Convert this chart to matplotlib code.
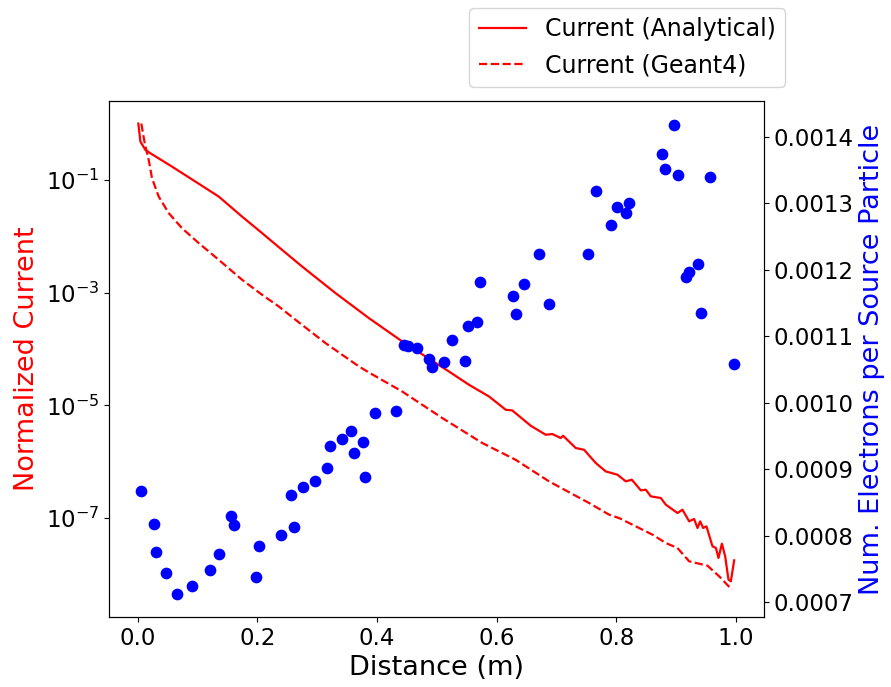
import numpy as np
import matplotlib.pyplot as plt
from matplotlib.ticker import NullLocator

# Analytical current (solid line)
dist_analytical = [0.001, 0.0045, 0.0129, 0.0212, 0.0574, 0.0965, 0.1355, 0.1745, 0.208,
                   0.2359, 0.2749, 0.3308, 0.3865, 0.4422, 0.4813, 0.5203, 0.5538, 0.5872,
                   0.6152, 0.6262, 0.657, 0.6821, 0.6931, 0.7072, 0.7111, 0.7323, 0.7462,
                   0.7658, 0.7825, 0.8019, 0.816, 0.826, 0.8411, 0.8494, 0.8578, 0.8745,
                   0.8829, 0.9023, 0.9107, 0.9219, 0.9302, 0.9358, 0.9403, 0.9453, 0.9508,
                   0.9609, 0.9666, 0.9709, 0.9766, 0.9821, 0.9876, 0.9916, 0.9971]
current_analytical = [1.0, 0.478, 0.340, 0.297, 0.172, 0.0933, 0.0506, 0.0223, 0.01135,
                      6.41e-3, 2.90e-3, 9.79e-4, 3.53e-4, 1.36e-4, 7.36e-5, 3.99e-5, 2.32e-5, 1.44e-5,
                      8.36e-6, 8.13e-6, 4.35e-6, 3.01e-6, 3.10e-6, 2.63e-6, 2.89e-6, 1.75e-6, 1.63e-6,
                      9.48e-7, 6.73e-7, 5.89e-7, 4.48e-7, 4.80e-7, 3.10e-7, 3.19e-7, 2.43e-7, 2.27e-7,
                      1.73e-7, 1.23e-7, 1.41e-7, 8.75e-8, 9.64e-8, 6.67e-8, 8.75e-8, 6.67e-8, 7.13e-8,
                      3.15e-8, 2.95e-8, 1.96e-8, 3.52e-8, 2.09e-8, 8.09e-9, 7.55e-9, 1.78e-8]

# Geant4 current (dashed line)
dist_geant4 = [0.006, 0.0117, 0.0184, 0.0239, 0.0351, 0.0519, 0.0741, 0.1021, 0.1355, 0.1745,
               0.208, 0.2359, 0.2638, 0.314, 0.3698, 0.3865, 0.4422, 0.5091, 0.576, 0.6319,
               0.6876, 0.7546, 0.788, 0.8048, 0.827, 0.8605, 0.8829, 0.9023, 0.9219, 0.9525,
               0.9721, 0.9933]
current_geant4 = [1.0, 0.448, 0.226, 0.107, 0.0506, 0.0257, 0.0139, 7.55e-3, 3.82e-3, 1.69e-3,
                  9.14e-4, 5.68e-4, 3.30e-4, 1.27e-4, 4.90e-5, 3.83e-5, 1.76e-5, 5.96e-6, 2.15e-6, 1.08e-6,
                  4.48e-7, 1.85e-7, 1.15e-7, 1.00e-7, 7.64e-8, 5.08e-8, 3.61e-8, 2.95e-8, 1.71e-8, 1.43e-8,
                  9.25e-9, 5.37e-9]

# Electrons per source particle (scatter)
dist_electrons = [0.0055, 0.0273, 0.0306, 0.0468, 0.0658, 0.0909, 0.121, 0.1367, 0.156, 0.161,
                  0.197, 0.2024, 0.240, 0.2565, 0.261, 0.2766, 0.296, 0.3167, 0.3207, 0.3418,
                  0.3569, 0.3614, 0.377, 0.3803, 0.3965, 0.431, 0.4456, 0.4517, 0.4663, 0.4869,
                  0.4925, 0.512, 0.5259, 0.547, 0.5521, 0.5667, 0.5722, 0.6269, 0.6319, 0.6464,
                  0.6714, 0.6871, 0.7524, 0.7663, 0.7919, 0.802, 0.816, 0.822, 0.876, 0.8817,
                  0.8973, 0.903, 0.9168, 0.9224, 0.9369, 0.9414, 0.957, 0.9966]
electrons = [0.000867, 0.000818, 0.000775, 0.000744, 0.000713, 0.000725, 0.000748, 0.000772, 0.000830, 0.000817,
             0.000738, 0.000784, 0.000802, 0.000862, 0.000814, 0.000873, 0.000883, 0.000902, 0.000935, 0.000946,
             0.000957, 0.000925, 0.000941, 0.000889, 0.000984, 0.000987, 0.001087, 0.001085, 0.001083, 0.001066,
             0.001054, 0.001062, 0.001095, 0.001063, 0.001116, 0.001122, 0.001181, 0.001160, 0.001133, 0.001179,
             0.001223, 0.001149, 0.001223, 0.001318, 0.001267, 0.001294, 0.001286, 0.001300, 0.001374, 0.001351,
             0.001418, 0.001342, 0.001189, 0.001196, 0.001208, 0.001135, 0.001340, 0.001059]

fs = 16.5
lab_fs = 19.5
fig = plt.figure(figsize=(8.91, 6.87), dpi=100)
ax = fig.add_axes([109 / 891, 1 - 617 / 687, 655 / 891, 516 / 687])

ax.plot(dist_analytical, current_analytical, 'r-', lw=1.6, label='Current (Analytical)')
ax.plot(dist_geant4, current_geant4, 'r--', lw=1.6, label='Current (Geant4)')
ax.set_yscale('log')
ax.set_yticks([1e-1, 1e-3, 1e-5, 1e-7])
ax.yaxis.set_minor_locator(NullLocator())
ax.set_ylim(10 ** -8.755, 10 ** 0.40)
ax.set_xlim(-0.048, 1.047)
ax.set_xlabel('Distance (m)', fontsize=lab_fs)
ax.set_ylabel('Normalized Current', color='red', fontsize=lab_fs)
ax.tick_params(labelsize=fs)

ax2 = ax.twinx()
ax2.scatter(dist_electrons, electrons, color='blue', s=55)
ax2.set_ylim(0.000678, 0.0014536)
ax2.set_ylabel('Num. Electrons per Source Particle', color='blue', fontsize=lab_fs)
ax2.tick_params(labelsize=fs)

ax.legend(loc='upper right', bbox_to_anchor=(785 / 891, 1 - 8 / 687),
          bbox_transform=fig.transFigure, borderaxespad=0, fontsize=17)

fig.savefig('out.png', dpi=100)
